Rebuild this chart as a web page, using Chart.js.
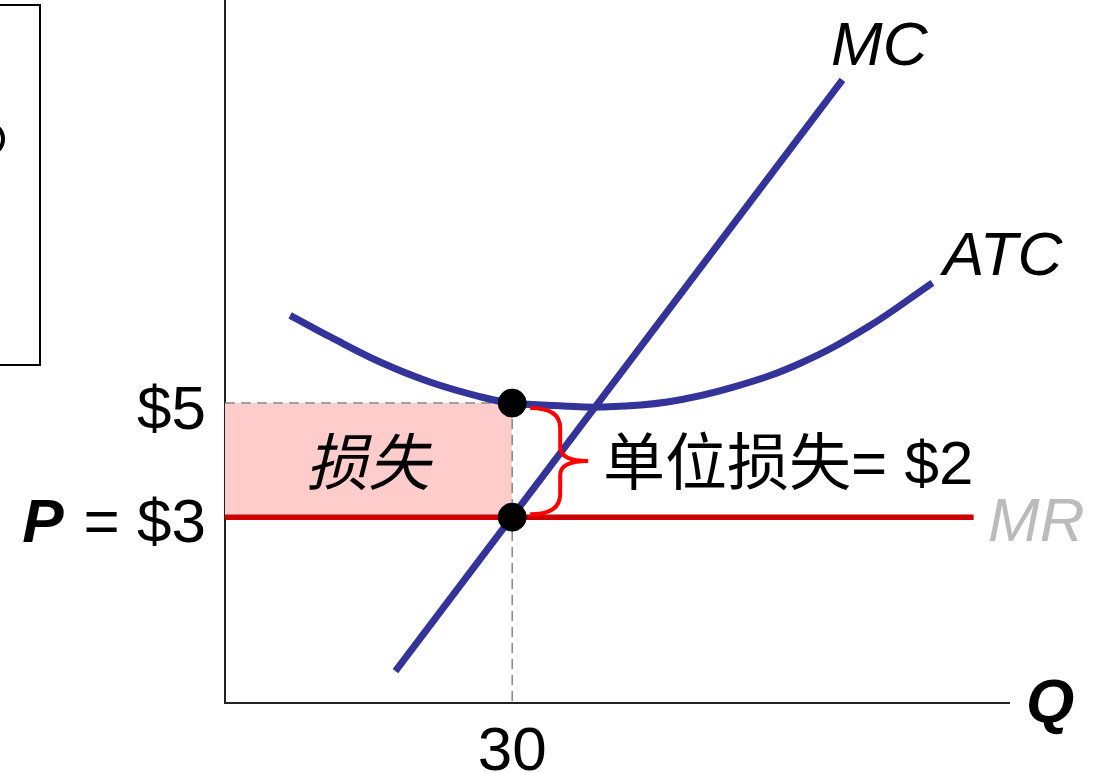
<!DOCTYPE html>
<html>
<head>
<meta charset="utf-8">
<script src="https://cdn.jsdelivr.net/npm/chart.js@4.4.1/dist/chart.umd.min.js"></script>
<style>
  html, body { margin: 0; padding: 0; background: #fff; }
  #wrap { width: 1105px; height: 773px; position: relative; }
</style>
</head>
<body>
<div id="wrap"><canvas id="chart"></canvas></div>
<script>
// ATC curve (quantity, price)
const atcQ = [6.8, 11.0, 16.2, 21.4, 26.7, 30, 35.3, 39.2, 46.2, 53.1, 60.1, 67.1, 73.9];
const atcP = [6.54, 6.16, 5.72, 5.37, 5.11, 5.0, 4.95, 4.93, 5.02, 5.28, 5.70, 6.33, 7.11];
// MC line
const mcQ = [17.8, 64.5];
const mcP = [0.3, 10.67];
// MR = price line
const mrQ = [0, 78.2];
const mrP = [3, 3];
// equilibrium quantity and prices
const qStar = 30;
const price = 3;
const atcAtQ = 5;
const xTicks = [30];

const toPts = (xs, ys) => xs.map((x, i) => ({ x: x, y: ys[i] }));
const yMin = -0.26, yMax = 12.07;

const labelsPlugin = {
  id: 'labels',
  beforeDatasetsDraw(chart) {
    const ctx = chart.ctx;
    const a = chart.chartArea;
    ctx.save();
    // axes
    ctx.strokeStyle = '#222';
    ctx.lineWidth = 2;
    ctx.beginPath();
    ctx.moveTo(a.left, a.top);
    ctx.lineTo(a.left, a.bottom);
    ctx.lineTo(a.right, a.bottom);
    ctx.stroke();
    ctx.restore();
  },
  afterDatasetsDraw(chart) {
    const ctx = chart.ctx;
    const xs = chart.scales.x, ys = chart.scales.y;
    ctx.save();
    // leftover box at the left edge
    ctx.strokeStyle = '#000';
    ctx.lineWidth = 2;
    ctx.strokeRect(-10, 5, 50, 360);
    ctx.lineWidth = 4;
    ctx.beginPath();
    ctx.ellipse(-7, 139, 10, 13, 0, -Math.PI / 2, Math.PI / 2);
    ctx.stroke();

    // brace between the two dots
    const bx = xs.getPixelForValue(qStar) + 18;
    const yTop = ys.getPixelForValue(atcAtQ) + 5;
    const yBot = ys.getPixelForValue(price) - 3;
    const yMid = (yTop + yBot) / 2;
    ctx.strokeStyle = '#ff0000';
    ctx.lineWidth = 4;
    ctx.beginPath();
    ctx.moveTo(bx, yTop);
    ctx.bezierCurveTo(bx + 22, yTop, bx + 30, yTop + 8, bx + 30, yTop + 20);
    ctx.lineTo(bx + 30, yMid - 14);
    ctx.bezierCurveTo(bx + 30, yMid - 4, bx + 40, yMid, bx + 58, yMid);
    ctx.bezierCurveTo(bx + 40, yMid, bx + 30, yMid + 4, bx + 30, yMid + 14);
    ctx.lineTo(bx + 30, yBot - 20);
    ctx.bezierCurveTo(bx + 30, yBot - 8, bx + 22, yBot, bx, yBot);
    ctx.stroke();

    ctx.fillStyle = '#000';
    ctx.textBaseline = 'alphabetic';
    ctx.font = 'italic 62px "Liberation Sans", Arial, sans-serif';
    ctx.textAlign = 'left';
    ctx.fillText('MC', 831, 65);
    ctx.fillText('ATC', 943, 275);
    ctx.fillStyle = '#bbbbbb';
    ctx.fillText('MR', 988, 541);
    ctx.fillStyle = '#000';
    ctx.font = 'bold italic 62px "Liberation Sans", Arial, sans-serif';
    ctx.fillText('Q', 1026, 722);

    // y labels
    ctx.font = '62px "Liberation Sans", Arial, sans-serif';
    ctx.textAlign = 'right';
    ctx.fillText('$' + atcAtQ, 206, 429);
    ctx.fillText('= $' + price, 206, 542);
    const eqW = ctx.measureText('= $' + price).width;
    ctx.font = 'bold italic 62px "Liberation Sans", Arial, sans-serif';
    ctx.fillText('P', 206 - eqW - 20, 542);

    // x tick
    ctx.font = '62px "Liberation Sans", Arial, sans-serif';
    ctx.textAlign = 'center';
    xTicks.forEach(t => ctx.fillText(String(t), xs.getPixelForValue(t), 770));

    // loss labels
    ctx.font = 'italic 62px "Noto Sans CJK SC", sans-serif';
    ctx.textAlign = 'center';
    ctx.fillText('损失', 368, 485);
    ctx.textAlign = 'left';
    ctx.font = '62px "Noto Sans CJK SC", sans-serif';
    ctx.fillText('单位损失', 603, 485);
    const cw = ctx.measureText('单位损失').width;
    ctx.font = '62px "Liberation Sans", Arial, sans-serif';
    ctx.fillText('= $' + (atcAtQ - price), 603 + cw, 484);
    ctx.restore();
  }
};

new Chart(document.getElementById('chart'), {
  type: 'line',
  data: {
    datasets: [
      {
        label: 'loss',
        data: toPts([0, qStar], [atcAtQ, atcAtQ]),
        borderColor: '#888888',
        borderWidth: 1.5,
        borderDash: [10, 6],
        backgroundColor: '#ffcccc',
        fill: { value: price },
        pointRadius: 0,
        order: 5
      },
      {
        label: 'drop',
        data: toPts([qStar, qStar], [atcAtQ, yMin]),
        borderColor: '#888888',
        borderWidth: 1.5,
        borderDash: [10, 6],
        pointRadius: 0,
        order: 4
      },
      {
        label: 'MR',
        data: toPts(mrQ, mrP),
        borderColor: '#cc0000',
        borderWidth: 5.5,
        pointRadius: 0,
        order: 3
      },
      {
        label: 'ATC',
        data: toPts(atcQ, atcP),
        borderColor: '#333399',
        borderWidth: 7,
        tension: 0.4,
        pointRadius: 0,
        order: 2
      },
      {
        label: 'MC',
        data: toPts(mcQ, mcP),
        borderColor: '#333399',
        borderWidth: 7,
        pointRadius: 0,
        order: 1
      },
      {
        type: 'scatter',
        label: 'dots',
        data: toPts([qStar, qStar], [atcAtQ, price]),
        backgroundColor: '#000',
        borderColor: '#000',
        pointRadius: 14,
        order: 0
      }
    ]
  },
  options: {
    responsive: true,
    maintainAspectRatio: false,
    animation: false,
    layout: { autoPadding: false, padding: { left: 225, top: 0, right: 95, bottom: 70 } },
    plugins: { legend: { display: false }, tooltip: { enabled: false } },
    scales: {
      x: { type: 'linear', min: 0, max: 82, display: false },
      y: { type: 'linear', min: yMin, max: yMax, display: false }
    }
  },
  plugins: [labelsPlugin]
});
</script>
</body>
</html>
